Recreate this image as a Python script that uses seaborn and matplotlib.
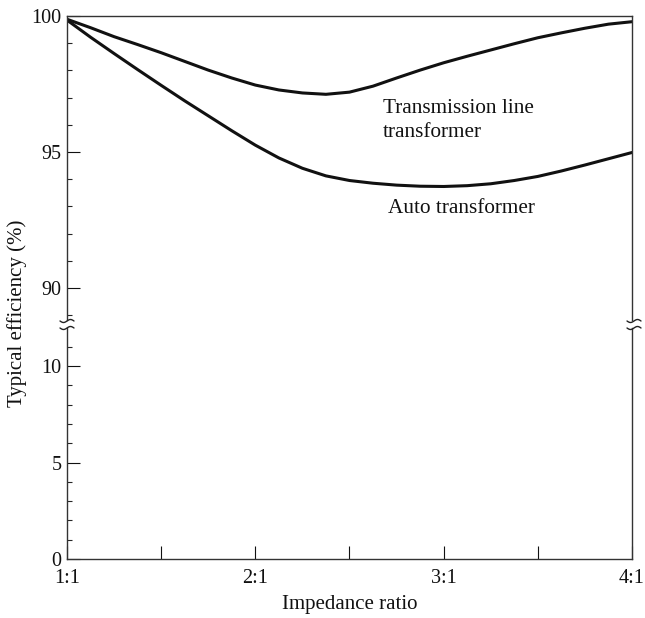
import numpy as np
import pandas as pd
import matplotlib
matplotlib.use('Agg')
import matplotlib.pyplot as plt
from matplotlib.lines import Line2D
import seaborn as sns

# values
ratio = [1.0, 1.125, 1.25, 1.375, 1.5, 1.625, 1.75, 1.875, 2.0, 2.125, 2.25, 2.375, 2.5,
         2.625, 2.75, 2.875, 3.0, 3.125, 3.25, 3.375, 3.5, 3.625, 3.75, 3.875, 4.0]
tl_eff = [99.88, 99.57, 99.24, 98.95, 98.65, 98.33, 98.01, 97.72, 97.46, 97.28, 97.17, 97.12, 97.2,
          97.42, 97.72, 98.01, 98.28, 98.52, 98.75, 98.98, 99.2, 99.38, 99.55, 99.7, 99.79]
auto_eff = [99.85, 99.22, 98.62, 98.03, 97.45, 96.88, 96.33, 95.78, 95.25, 94.78, 94.4, 94.12, 93.95,
            93.85, 93.78, 93.74, 93.73, 93.76, 93.83, 93.95, 94.1, 94.3, 94.52, 94.75, 94.98]

x_ticks = [1.0, 1.5, 2.0, 2.5, 3.0, 3.5, 4.0]
x_labels = ['1:1', '', '2:1', '', '3:1', '', '4:1']
upper_major = [90, 95, 100]
lower_major = [0, 5, 10]

df = pd.DataFrame({
    'ratio': ratio * 2,
    'eff': tl_eff + auto_eff,
    'curve': ['Transmission line transformer'] * len(ratio) + ['Auto transformer'] * len(ratio),
})

sns.set_theme(style='ticks')
plt.rcParams['font.family'] = ['Liberation Serif', 'DejaVu Serif']
plt.rcParams['axes.linewidth'] = 1.0
plt.rcParams['axes.edgecolor'] = '#333333'

W, H = 645, 618
fig = plt.figure(figsize=(W / 100, H / 100), dpi=100)

def box(left, top, right, bottom):
    return [left / W, 1 - bottom / H, (right - left) / W, (bottom - top) / H]

ax_top = fig.add_axes(box(67, 16, 632, 320))
ax_bot = fig.add_axes(box(67, 328, 632, 559))

sns.lineplot(data=df, x='ratio', y='eff', hue='curve', palette=['#111111', '#111111'],
             linewidth=2.2, legend=False, ax=ax_top)

ax_top.set_xlim(1, 4)
ax_top.set_ylim(88.82, 100)
ax_bot.set_xlim(1, 4)
ax_bot.set_ylim(0, 11.97)

for ax in (ax_top, ax_bot):
    ax.set_xlabel('')
    ax.set_ylabel('')
    ax.tick_params(axis='y', which='major', direction='in', length=9.5, width=0.8,
                   labelsize=14.5, pad=4, colors='#111111')
    ax.tick_params(axis='y', which='minor', direction='in', length=3.6, width=0.8)
    ax.spines['right'].set_visible(True)

ax_top.set_yticks(upper_major)
ax_top.set_yticks(range(89, 100), minor=True)
ax_top.set_xticks([])
ax_top.spines['bottom'].set_visible(False)
ax_top.spines['top'].set_visible(True)

ax_bot.set_yticks(lower_major)
ax_bot.set_yticks(range(1, 12), minor=True)
ax_bot.set_xticks(x_ticks)
ax_bot.set_xticklabels(x_labels)
ax_bot.tick_params(axis='x', direction='in', length=9.5, width=0.8, labelsize=14.5, pad=7.5,
                   colors='#111111')
ax_bot.spines['top'].set_visible(False)

ax_top.text(2.678, 96.43, 'Transmission line', fontsize=15.3, va='baseline', color='#111111')
ax_top.text(2.678, 95.55, 'transformer', fontsize=15.3, va='baseline', color='#111111')
ax_top.text(2.705, 92.76, 'Auto transformer', fontsize=15.3, va='baseline', color='#111111')

fig.text(350 / W, 1 - 605 / H, 'Impedance ratio', fontsize=15, ha='center', va='center',
         color='#111111')
fig.text(17 / W, 1 - 313 / H, 'Typical efficiency (%)', fontsize=15, rotation=90,
         ha='center', va='center', color='#111111')

# axis break squiggles
t = np.linspace(0, 1, 30)
for xc in (67, 634):
    for yc in (321, 328):
        xs = xc - 7 + 14 * t
        ys = yc + 1.5 * np.sin(2 * np.pi * t)
        fig.add_artist(Line2D(xs / W, 1 - ys / H, transform=fig.transFigure,
                              color='#222222', linewidth=1.0))

fig.savefig('out.png', dpi=100)
